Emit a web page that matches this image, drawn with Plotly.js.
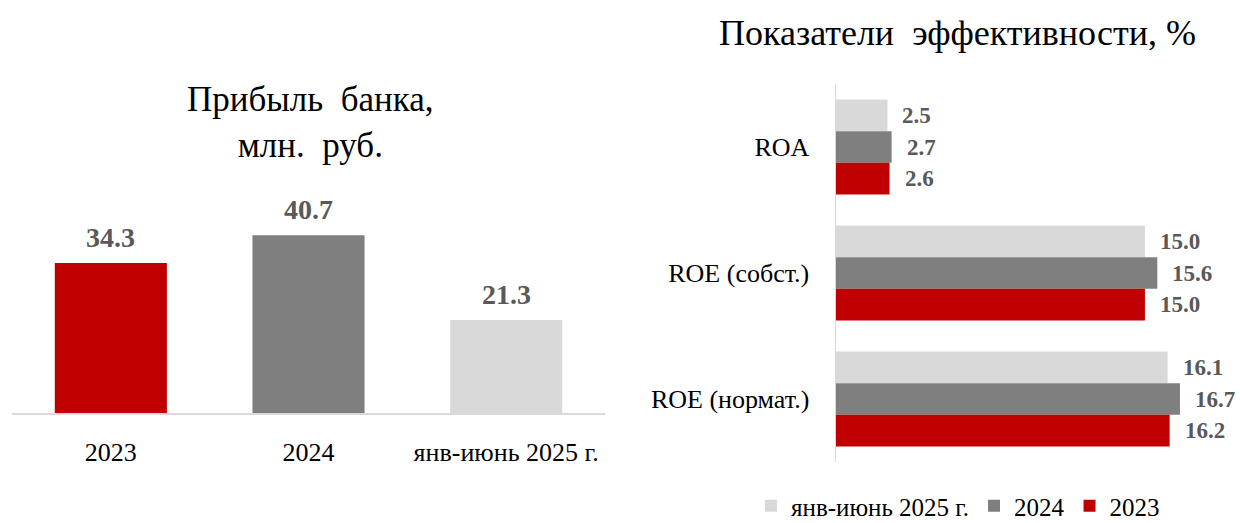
<!DOCTYPE html>
<html>
<head>
<meta charset="utf-8">
<script src="https://cdn.plot.ly/plotly-3.0.1.min.js"></script>
<style>html,body{margin:0;padding:0;background:#fff;}#chart{width:1240px;height:523px;}</style>
</head>
<body>
<div id="chart"></div>
<script>
// Left chart: bank profit, mln rub
const profitCategories = ['2023', '2024', 'янв-июнь 2025 г.'];
const profitValues = [34.3, 40.7, 21.3];
const profitColors = ['#c00000', '#7f7f7f', '#d9d9d9'];

// Right chart: efficiency indicators, %
const kpiCategories = ['ROA', 'ROE (собст.)', 'ROE (нормат.)'];
const seriesNames = ['янв-июнь 2025 г.', '2024', '2023'];
const kpi2025 = [2.5, 15.0, 16.1];
const kpi2024 = [2.7, 15.6, 16.7];
const kpi2023 = [2.6, 15.0, 16.2];
const seriesColors = ['#d9d9d9', '#7f7f7f', '#c00000'];

const FONT = '"Liberation Serif", "Times New Roman", serif';
const LABEL_COLOR = '#595959';

const traces = [];
traces.push({
  type: 'bar', x: profitCategories, y: profitValues,
  marker: {color: profitColors}, width: 0.567,
  xaxis: 'x', yaxis: 'y', showlegend: false, hoverinfo: 'skip'
});
const kpiSeries = [kpi2025, kpi2024, kpi2023];
kpiSeries.forEach((vals, i) => {
  traces.push({
    type: 'bar', orientation: 'h', y: kpiCategories, x: vals,
    name: seriesNames[i], marker: {color: seriesColors[i]},
    xaxis: 'x2', yaxis: 'y2', hoverinfo: 'skip'
  });
});

const annotations = [];
profitCategories.forEach((c, i) => {
  annotations.push({
    xref: 'x', yref: 'y', x: i, y: profitValues[i], yanchor: 'bottom', yshift: 8,
    text: profitValues[i].toFixed(1), showarrow: false,
    font: {family: FONT, size: 28, color: LABEL_COLOR, weight: 'bold'}
  });
});
const groupShift = [31.5, 0, -31.5];
kpiSeries.forEach((vals, s) => {
  kpiCategories.forEach((c, i) => {
    annotations.push({
      xref: 'x2', yref: 'y2', x: vals[i], y: i, xanchor: 'left', yanchor: 'middle',
      xshift: 13, yshift: groupShift[s],
      text: vals[i].toFixed(1), showarrow: false,
      font: {family: FONT, size: 23, color: LABEL_COLOR, weight: 'bold'}
    });
  });
});
annotations.push({
  xref: 'paper', yref: 'paper', x: 310/1240, y: (523-122)/523, xanchor: 'center', yanchor: 'middle',
  text: 'Прибыль  банка,<br>млн.  руб.', showarrow: false, align: 'center',
  font: {family: FONT, size: 35, color: '#000'}
});
annotations.push({
  xref: 'paper', yref: 'paper', x: 957/1240, y: (523-33)/523, xanchor: 'center', yanchor: 'middle',
  text: 'Показатели  эффективности, %', showarrow: false,
  font: {family: FONT, size: 36, color: '#000'}
});

const layout = {
  width: 1240, height: 523,
  margin: {l: 0, r: 0, t: 0, b: 0, autoexpand: false},
  paper_bgcolor: '#fff', plot_bgcolor: '#fff',
  font: {family: FONT, color: '#000'},
  barmode: 'group', bargap: 0.247, bargroupgap: 0,
  xaxis: {
    domain: [12/1240, 605/1240], type: 'category', range: [-0.5, 2.5],
    showline: true, linecolor: '#d9d9d9', linewidth: 1.5,
    showgrid: false, zeroline: false, ticks: '', ticklabelstandoff: 15,
    tickfont: {family: FONT, size: 26, color: '#000'}, fixedrange: true
  },
  yaxis: {
    domain: [(523-413)/523, (523-200)/523], range: [0, 48.74],
    visible: false, showgrid: false, zeroline: false, fixedrange: true
  },
  xaxis2: {
    domain: [836/1240, 1230/1240], range: [0, 19.13], anchor: 'y2',
    visible: false, showgrid: false, zeroline: false, fixedrange: true
  },
  yaxis2: {
    domain: [(523-462)/523, (523-84)/523], type: 'category', anchor: 'x2',
    categoryorder: 'array', categoryarray: kpiCategories, autorange: 'reversed',
    showline: true, linecolor: '#d9d9d9', linewidth: 1.5,
    showgrid: false, zeroline: false, ticks: '', ticklabelstandoff: 20,
    tickfont: {family: FONT, size: 26, color: '#000'}, fixedrange: true
  },
  showlegend: true,
  legend: {
    orientation: 'h', x: 958/1240, xanchor: 'center', y: 17/523, yanchor: 'middle',
    font: {family: FONT, size: 25, color: '#000'}, traceorder: 'normal',
    itemwidth: 30, bgcolor: 'rgba(0,0,0,0)'
  },
  annotations: annotations
};

Plotly.newPlot('chart', traces, layout, {displayModeBar: false, staticPlot: true});
</script>
</body>
</html>
